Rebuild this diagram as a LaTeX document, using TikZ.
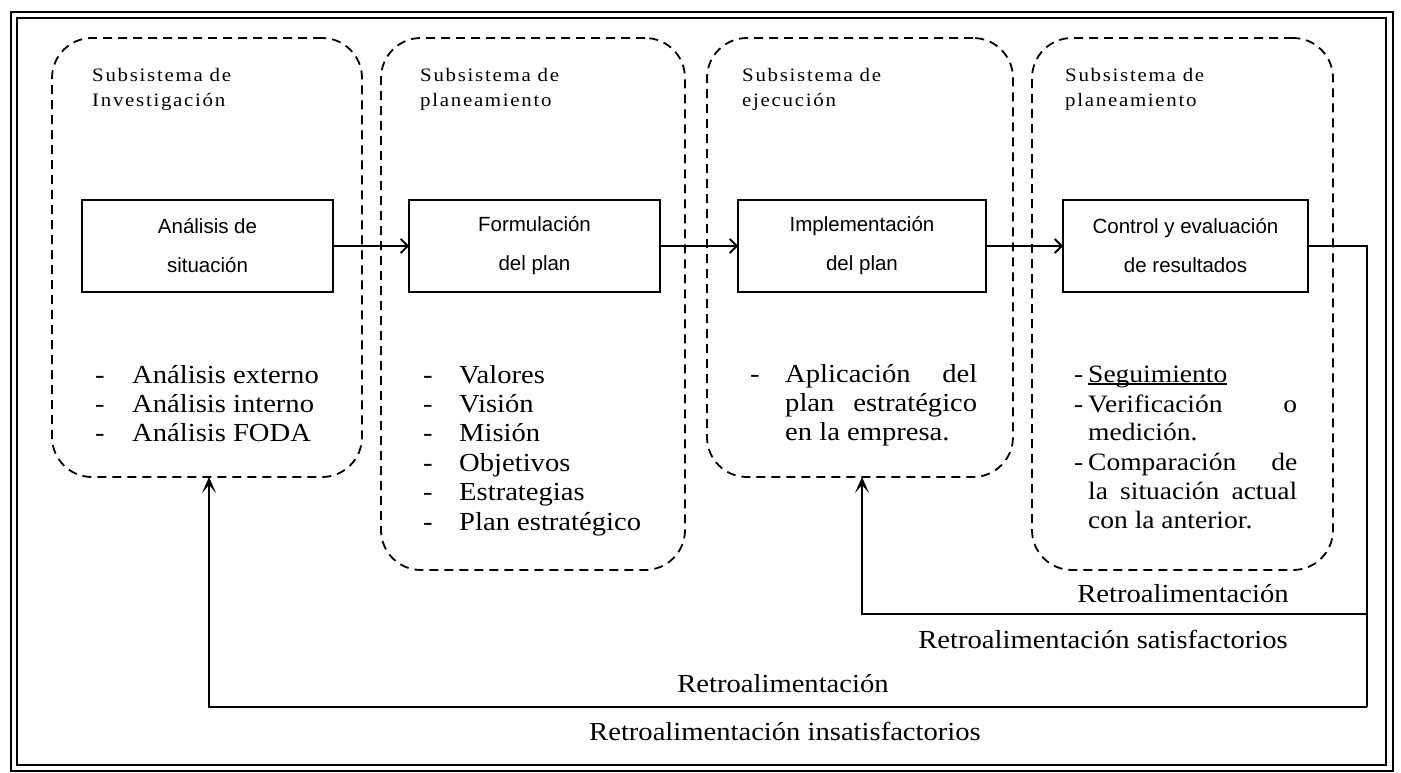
\documentclass[tikz,border=0pt]{standalone}
\usepackage{fontspec}
\setmainfont{Liberation Serif}
\newfontfamily\cajafont{Liberation Sans}
\newfontfamily\listafont[FakeStretch=1.1]{Liberation Serif}
\newfontfamily\titulofont[FakeStretch=1.1,LetterSpace=9]{Liberation Serif}
\usetikzlibrary{arrows.meta, positioning, calc}
\tikzset{
	subsistema/.style={draw, dash pattern=on 9pt off 6pt, line width=1.8pt, rounded corners=40pt, inner sep=0pt, outer sep=0pt},
	proceso/.style={draw, line width=1.8pt, inner sep=0pt, outer sep=0pt, minimum height=92pt, align=center, font=\cajafont\fontsize{20.5}{39}\selectfont},
	titulo/.style={anchor=base west, align=left, inner sep=0pt, font=\titulofont\fontsize{19}{25}\selectfont},
	lista/.style={anchor=base west, inner sep=0pt, font=\listafont\fontsize{26}{29.3}\selectfont},
	listachica/.style={lista, font=\listafont\fontsize{25}{29.3}\selectfont},
	flecha/.style={line width=1.8pt, -{Straight Barb[length=7pt, width=14pt]}},
	retro/.style={line width=1.8pt, -{Stealth[length=16pt, width=14pt, inset=8pt]}},
	linea/.style={line width=1.8pt}
}

\begin{document}
\begin{tikzpicture}[x=1pt, y=-1pt]
		\useasboundingbox (0,0) rectangle (1401,773);
		% Marco doble
		\draw[linea] (11,12) rectangle (1393,771);
		\draw[linea] (17,18) rectangle (1386,765);
		
		% Subsistemas
		\node (sub1) [subsistema, minimum width=310pt, minimum height=439pt] at (207,257.5) {};
		\node (sub2) [subsistema, minimum width=304pt, minimum height=532pt] at (533,304) {};
		\node (sub3) [subsistema, minimum width=306pt, minimum height=439pt] at (860,257.5) {};
		\node (sub4) [subsistema, minimum width=301pt, minimum height=532pt] at (1182.5,304) {};
		% (la base del nodo es la de la segunda linea)
		\node (tit1) [titulo] at (92,107) {Subsistema de\\Investigación};
		\node (tit2) [titulo] at (420,107) {Subsistema de\\planeamiento};
		\node (tit3) [titulo] at (742,107) {Subsistema de\\ejecución};
		\node (tit4) [titulo] at (1065,107) {Subsistema de\\planeamiento};
		
		% Procesos
		\node (caja1) [proceso, minimum width=251pt] at (207.5,246) {Análisis de\\situación};
		\node (caja2) [proceso, minimum width=251pt] at (534.5,246) {Formulación\\del plan};
		\node (caja3) [proceso, minimum width=248pt] at (862,246) {Implementación\\del plan};
		\node (caja4) [proceso, minimum width=245pt] at (1185.5,246) {Control y evaluación\\de resultados};
		\draw[flecha] (caja1) -- (caja2);
		\draw[flecha] (caja2) -- (caja3);
		\draw[flecha] (caja3) -- (caja4);
		
		% Listas
		\foreach \t [count=\i from 0] in {Análisis externo, Análisis interno, Análisis FODA} {
			\node (g1-\i) [lista] at (95,383+29.3*\i) {-};
			\node (l1-\i) [lista] at (132,383+29.3*\i) {\t};
		}
		\foreach \t [count=\i from 0] in {Valores, Visión, Misión, Objetivos, Estrategias, Plan estratégico} {
			\node (g2-\i) [lista] at (423,383+29.4*\i) {-};
			\node (l2-\i) [lista] at (459,383+29.4*\i) {\t};
		}
		\node (g3) [lista] at (750,382) {-};
		\node (l3-0) [lista] at (785,382) {\makebox[192pt][s]{Aplicación del}};
		\node (l3-1) [lista] at (785,411) {\makebox[192pt][s]{plan estratégico}};
		\node (l3-2) [lista] at (785,440) {en la empresa.};
		\node (g4-0) [listachica] at (1074,382) {-};
		\node (g4-1) [listachica] at (1074,412) {-};
		\node (g4-2) [listachica] at (1074,470) {-};
		\node (seg) [listachica] at (1088,382) {Seguimiento};
		\draw[line width=1.2pt] ([yshift=-2pt]seg.base west) -- ([yshift=-2pt]seg.base east);
		\node (l4-1) [listachica] at (1088,412) {\makebox[209pt][s]{Verificación o}};
		\node (l4-2) [listachica] at (1088,440) {medición.};
		\node (l4-3) [listachica] at (1088,470) {\makebox[209pt][s]{Comparación de}};
		\node (l4-4) [listachica] at (1088,499) {\makebox[209pt][s]{la situación actual}};
		\node (l4-5) [listachica] at (1088,528) {con la anterior.};
		
		% Retroalimentación
		\coordinate (esq) at (1367,246);
		\coordinate (codoA) at (1367,614);
		\coordinate (codoB) at (862,614);
		\coordinate (codoC) at (1367,707);
		\coordinate (codoD) at (209,707);
		\draw[linea] (caja4.east) -- (esq) -- (codoC);
		\draw[retro] (codoA) -- (codoB) -- (codoB |- sub3.south);
		\draw[retro] (codoC) -- (codoD) -- (codoD |- sub1.south);
		\node (r1) [lista, anchor=base] at (1183,602) {Retroalimentación};
		\node (r2) [lista, anchor=base] at (1103,648) {Retroalimentación satisfactorios};
		\node (r3) [lista, anchor=base] at (783,692) {Retroalimentación};
		\node (r4) [lista, anchor=base] at (785,740) {Retroalimentación insatisfactorios};
	\end{tikzpicture}
\end{document}
